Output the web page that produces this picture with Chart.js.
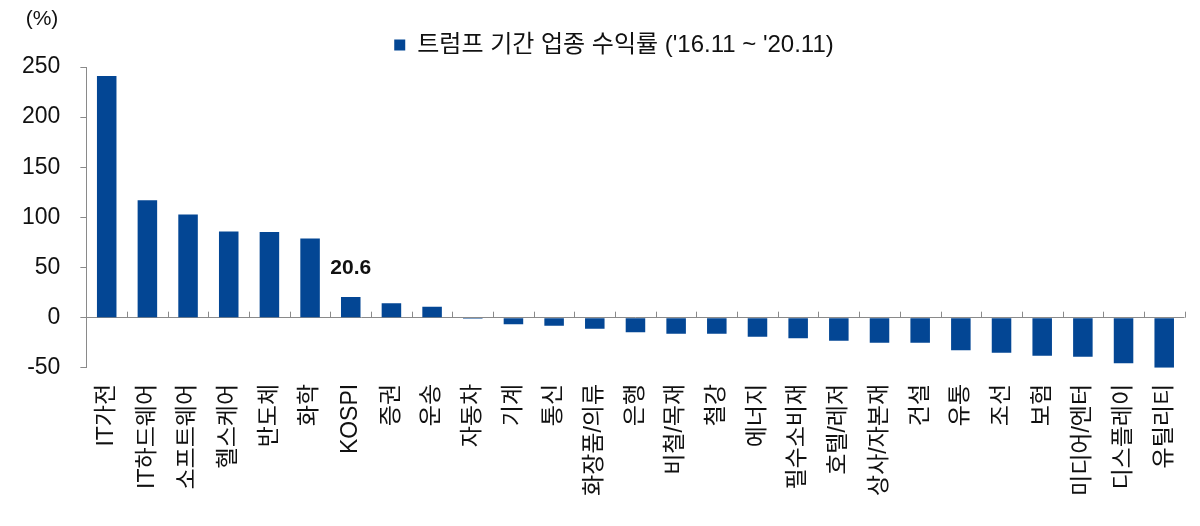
<!DOCTYPE html>
<html lang="ko">
<head>
<meta charset="UTF-8">
<title>트럼프 기간 업종 수익률</title>
<script src="https://cdn.jsdelivr.net/npm/chart.js"></script>
<style>
  html, body { margin: 0; padding: 0; background: #fff; }
  #wrap { width: 1200px; height: 526px; position: relative; }
</style>
</head>
<body>
<div id="wrap"><canvas id="chart"></canvas></div>
<script>
// sectors, sorted by return
const categories = ['IT가전', 'IT하드웨어', '소프트웨어', '헬스케어', '반도체', '화학', 'KOSPI', '증권', '운송', '자동차',
  '기계', '통신', '화장품/의류', '은행', '비철/목재', '철강', '에너지', '필수소비재', '호텔/레저', '상사/자본재',
  '건설', '유통', '조선', '보험', '미디어/엔터', '디스플레이', '유틸리티'];
const returns = [241, 117, 103, 86, 85.5, 79, 20.6, 14.5, 11, -1,
  -6.5, -8, -11, -14.5, -16, -16, -19, -20.5, -23, -25,
  -25, -32.5, -35, -38, -39, -45.5, -50];
const yTicks = [-50, 0, 50, 100, 150, 200, 250];
const seriesName = "트럼프 기간 업종 수익률 ('16.11 ~ '20.11)";
const highlight = 'KOSPI';

const barColor = '#034694';
const axisColor = '#8a8a8a';
const latin = '"Liberation Sans", "Noto Sans CJK KR", sans-serif';
const korean = '"Liberation Sans", "Noto Sans CJK KR", sans-serif';

// legend sits a bit right of centre in the original
const legendShift = {
  id: 'legendShift',
  beforeDraw(chart) {
    if (chart.legend && !chart.legend._shifted) {
      chart.legend.left += 18;
      chart.legend.right += 18;
      chart.legend._shifted = true;
    }
  },
  afterLayout(chart) {
    if (chart.legend) chart.legend._shifted = false;
  }
};

// small ticks on the zero line between categories, % unit, value label
const extras = {
  id: 'extras',
  afterDatasetsDraw(chart) {
    const ctx = chart.ctx;
    const x = chart.scales.x, y = chart.scales.y;
    const y0 = y.getPixelForValue(0);
    const step = (x.right - x.left) / categories.length;
    ctx.save();
    ctx.strokeStyle = axisColor;
    ctx.lineWidth = 1;
    ctx.beginPath();
    for (let i = 1; i <= categories.length; i++) {
      const px = Math.round(x.left + step * i) + 0.5;
      ctx.moveTo(px, y0);
      ctx.lineTo(px, y0 - 6);
    }
    ctx.stroke();

    ctx.fillStyle = '#111';
    ctx.font = '21px ' + latin;
    ctx.textAlign = 'center';
    ctx.textBaseline = 'middle';
    ctx.fillText('(%)', 42, 19);

    const idx = categories.indexOf(highlight);
    const bar = chart.getDatasetMeta(0).data[idx];
    ctx.font = 'bold 21px ' + latin;
    ctx.textBaseline = 'bottom';
    ctx.fillText(returns[idx].toFixed(1), bar.x, bar.y - 18);
    ctx.restore();
  }
};

new Chart(document.getElementById('chart'), {
  type: 'bar',
  data: {
    labels: categories,
    datasets: [{
      label: seriesName,
      data: returns,
      backgroundColor: barColor,
      barPercentage: 0.48,
      categoryPercentage: 1
    }]
  },
  options: {
    responsive: true,
    maintainAspectRatio: false,
    animation: false,
    layout: { padding: { left: 2, right: 10, top: 19, bottom: 22 } },
    plugins: {
      legend: {
        position: 'top',
        labels: {
          boxWidth: 11,
          boxHeight: 11,
          color: '#111',
          padding: 14,
          font: { size: 24, family: korean }
        }
      },
      tooltip: { enabled: false }
    },
    scales: {
      x: {
        grid: { display: false },
        border: { display: false },
        ticks: {
          autoSkip: false,
          minRotation: 90,
          maxRotation: 90,
          color: '#111',
          padding: 8,
          font: { size: 23, family: korean }
        }
      },
      y: {
        min: -50,
        max: 250,
        afterBuildTicks(scale) { scale.ticks = yTicks.map(v => ({ value: v })); },
        border: { color: axisColor },
        grid: {
          color: c => (c.tick && c.tick.value === 0 ? axisColor : 'rgba(0,0,0,0)'),
          tickColor: axisColor,
          tickLength: 6
        },
        ticks: {
          color: '#111',
          padding: 20,
          font: { size: 23, family: latin }
        }
      }
    }
  },
  plugins: [legendShift, extras]
});
</script>
</body>
</html>
